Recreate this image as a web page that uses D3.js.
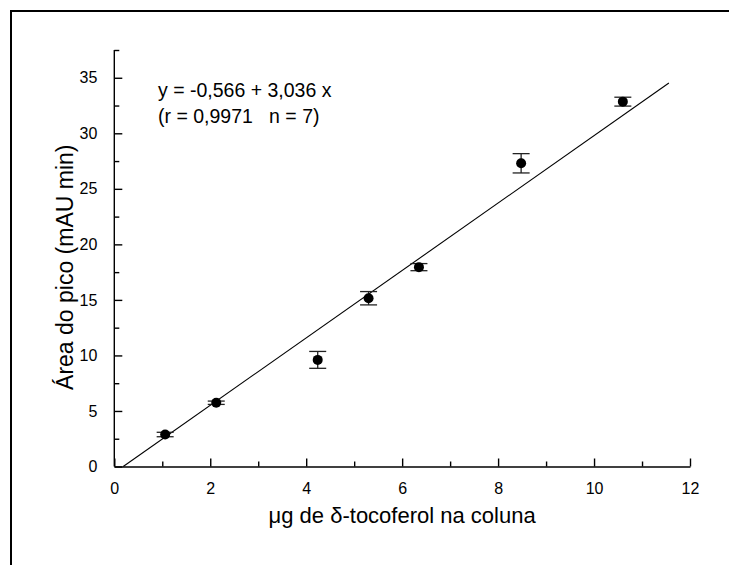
<!DOCTYPE html>
<html><head><meta charset="utf-8">
<script src="https://cdn.jsdelivr.net/npm/d3@7"></script>
<style>
html,body{margin:0;padding:0;background:#fff;}
text{font-family:"Liberation Sans",Arial,sans-serif;fill:#000;}
</style></head>
<body><svg id="c" width="729" height="565"></svg>
<script>
// Data
const xValues = [1.06, 2.125, 4.24, 5.30, 6.35, 8.48, 10.6];
const yValues = [2.88, 5.74, 9.6, 15.15, 17.95, 27.3, 32.85];
const yErrors = [0.2, 0.15, 0.76, 0.6, 0.32, 0.87, 0.4];
const xTicks = [0, 2, 4, 6, 8, 10, 12];
const xMinorTicks = [1, 3, 5, 7, 9, 11];
const yTicks = [0, 5, 10, 15, 20, 25, 30, 35];
const yMinorTicks = [2.5, 7.5, 12.5, 17.5, 22.5, 27.5, 32.5, 37.5];
const fitIntercept = -0.566;
const fitSlope = 3.036;
const fitRange = [0.186, 11.56];
const eqLines = ["y = -0,566 + 3,036 x", "(r = 0,9971   n = 7)"];
const xTitle = "\u03bcg de \u03b4-tocoferol na coluna";
const yTitle = "\u00c1rea do pico (mAU min)";

const svg = d3.select("#c");
// outer frame
svg.append("rect").attr("x",11).attr("y",11).attr("width",900).attr("height",900)
  .attr("fill","none").attr("stroke","#000").attr("stroke-width",2);

const x = d3.scaleLinear().domain([0,12]).range([114.3,690]);
const y = d3.scaleLinear().domain([0,37.5]).range([466.5,50]);

const g = svg.append("g");
function styleAxis(sel){
  sel.select(".domain").attr("stroke","#000").attr("stroke-width",1.4);
  sel.selectAll(".tick line").attr("stroke","#000").attr("stroke-width",1.4);
  sel.selectAll(".tick text").attr("font-size",16).attr("font-family","Liberation Sans, Arial, sans-serif");
}
// x axis
const gx = g.append("g").attr("transform",`translate(0,${y(0)})`)
  .call(d3.axisBottom(x).tickValues(xTicks).tickSizeInner(-8).tickSizeOuter(0).tickPadding(16).tickFormat(d3.format("d")));
styleAxis(gx);
const gxm = g.append("g").attr("transform",`translate(0,${y(0)})`)
  .call(d3.axisBottom(x).tickValues(xMinorTicks).tickSizeInner(-5).tickSizeOuter(0).tickFormat(""));
styleAxis(gxm); gxm.select(".domain").remove();
// y axis
const gy = g.append("g").attr("transform",`translate(${x(0)},0)`)
  .call(d3.axisLeft(y).tickValues(yTicks).tickSizeInner(-8).tickSizeOuter(0).tickPadding(17).tickFormat(d3.format("d")));
styleAxis(gy);
gy.select(".domain").attr("d",`M0,${y(0)}V${y(37.5)}`);
const gym = g.append("g").attr("transform",`translate(${x(0)},0)`)
  .call(d3.axisLeft(y).tickValues(yMinorTicks).tickSizeInner(-5).tickSizeOuter(0).tickFormat(""));
styleAxis(gym); gym.select(".domain").remove();

// fit line
g.append("line")
  .attr("x1",x(fitRange[0])).attr("y1",y(fitIntercept+fitSlope*fitRange[0]))
  .attr("x2",x(fitRange[1])).attr("y2",y(fitIntercept+fitSlope*fitRange[1]))
  .attr("stroke","#000").attr("stroke-width",1.1);

const pts = xValues.map((v,i)=>({x:v,y:yValues[i],e:yErrors[i]}));
const eb = g.append("g").attr("stroke","#222").attr("stroke-width",1.3);
eb.selectAll(".v").data(pts).enter().append("line")
  .attr("x1",d=>x(d.x)).attr("x2",d=>x(d.x)).attr("y1",d=>y(d.y-d.e)).attr("y2",d=>y(d.y+d.e));
eb.selectAll(".t").data(pts).enter().append("line")
  .attr("x1",d=>x(d.x)-8.5).attr("x2",d=>x(d.x)+8.5).attr("y1",d=>y(d.y+d.e)).attr("y2",d=>y(d.y+d.e));
eb.selectAll(".b").data(pts).enter().append("line")
  .attr("x1",d=>x(d.x)-8.5).attr("x2",d=>x(d.x)+8.5).attr("y1",d=>y(d.y-d.e)).attr("y2",d=>y(d.y-d.e));
g.append("g").selectAll("circle").data(pts).enter().append("circle")
  .attr("cx",d=>x(d.x)).attr("cy",d=>y(d.y)).attr("r",5).attr("fill","#000");

// equation
const eq = g.append("text").attr("font-size",19.5).attr("xml:space","preserve").style("white-space","pre");
eq.selectAll("tspan").data(eqLines).enter().append("tspan")
  .attr("x",158).attr("y",(d,i)=>97+i*25.5).text(d=>d);

// titles
g.append("text").attr("x",(x(0)+x(12))/2).attr("y",523).attr("text-anchor","middle")
  .attr("font-size",22).text(xTitle);
g.append("text").attr("transform",`translate(73,${(y(0)+y(37.5))/2+9}) rotate(-90)`)
  .attr("text-anchor","middle").attr("font-size",23).text(yTitle);
</script></body></html>
